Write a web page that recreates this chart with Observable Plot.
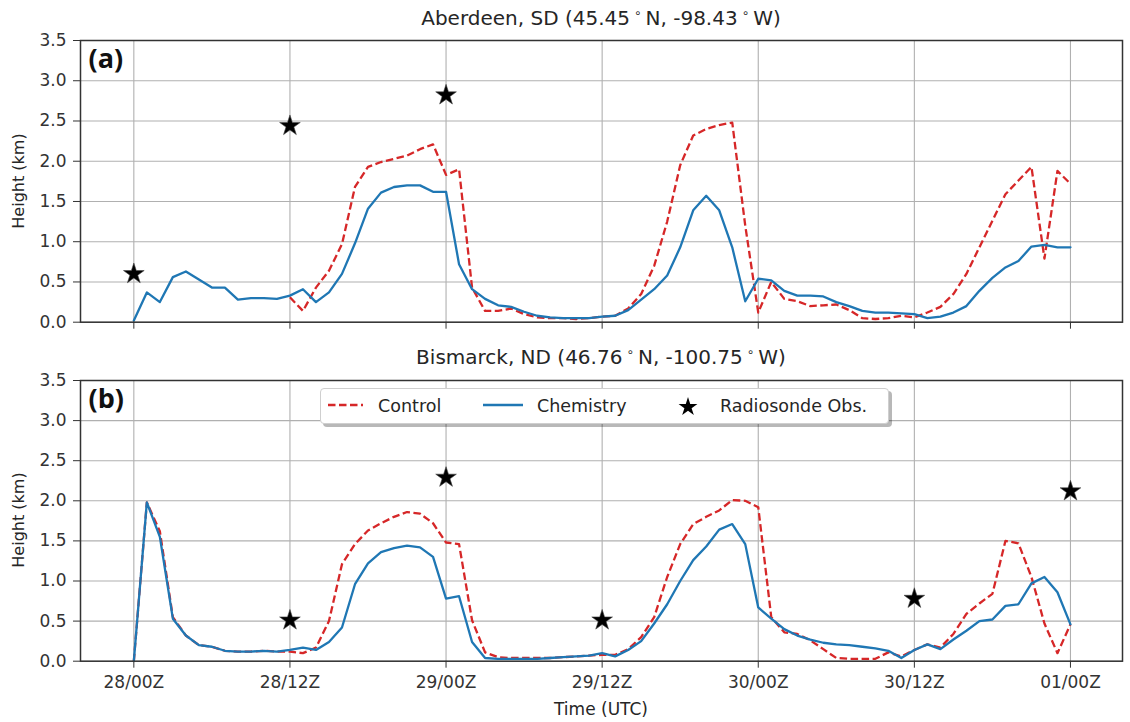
<!DOCTYPE html>
<html>
<head>
<meta charset="utf-8">
<script src="https://cdn.jsdelivr.net/npm/d3@7"></script>
<script src="https://cdn.jsdelivr.net/npm/@observablehq/plot@0.6"></script>
<style>
  html, body { margin: 0; padding: 0; background: #fff; }
  #wrap { position: relative; width: 1130px; height: 722px; font-family: "DejaVu Sans", sans-serif; color: #262626; overflow: hidden; }
  .abs { position: absolute; }
  .title { font-size: 20px; white-space: nowrap; transform: translate(-50%, -50%); }
  .ylab { font-size: 16px; white-space: nowrap; transform: translate(-50%, -50%) rotate(-90deg); }
  .xlab { font-size: 17px; white-space: nowrap; transform: translate(-50%, -50%); }
  .deg { font-size: 12px; vertical-align: 8px; margin: 0 4px; }
  #legend { left: 320px; top: 388px; width: 567px; height: 34px; background: #fff; border: 1px solid #cfcfcf; border-radius: 4px; box-shadow: 3px 3px 0 rgba(0,0,0,0.28); font-size: 17.5px; }
  #legend .t { position: absolute; top: 50%; transform: translateY(-50%); white-space: nowrap; }
</style>
</head>
<body>
<div id="wrap"></div>
<script>
// ---------------- data ----------------
const hours = d3.range(0, 73); // hourly model output, 28/00Z .. 01/00Z
const xTicks = [0, 12, 24, 36, 48, 60, 72];
const xTickLabels = ["28/00Z", "28/12Z", "29/00Z", "29/12Z", "30/00Z", "30/12Z", "01/00Z"];
const yTicks = [0, 0.5, 1, 1.5, 2, 2.5, 3, 3.5];

// (a) Aberdeen, SD
const aChem = [0.02,0.37,0.25,0.56,0.63,0.53,0.43,0.43,0.28,0.30,0.30,0.29,0.33,0.41,0.25,0.37,0.60,0.98,1.41,1.61,1.68,1.70,1.70,1.62,1.62,0.72,0.41,0.29,0.21,0.19,0.13,0.08,0.06,0.05,0.05,0.05,0.07,0.08,0.15,0.28,0.41,0.58,0.93,1.39,1.57,1.39,0.93,0.26,0.54,0.52,0.39,0.33,0.33,0.32,0.25,0.20,0.14,0.12,0.12,0.11,0.10,0.05,0.07,0.12,0.20,0.39,0.55,0.68,0.76,0.94,0.96,0.93,0.93];
const aCtrl = [null,null,null,null,null,null,null,null,null,null,null,null,0.31,0.14,0.43,0.64,0.97,1.68,1.93,1.99,2.03,2.07,2.15,2.21,1.83,1.90,0.43,0.14,0.14,0.17,0.10,0.06,0.05,0.05,0.04,0.05,0.07,0.08,0.17,0.35,0.70,1.25,1.95,2.32,2.40,2.45,2.48,1.20,0.12,0.50,0.29,0.26,0.20,0.21,0.22,0.15,0.05,0.04,0.05,0.08,0.06,0.12,0.19,0.35,0.60,0.93,1.26,1.59,1.76,1.93,0.79,1.88,1.72];
const aObsHours = [0, 12, 24];
const aObs = [0.60, 2.44, 2.82];

// (b) Bismarck, ND
const bChem = [0.00,1.98,1.55,0.53,0.32,0.20,0.18,0.13,0.12,0.12,0.13,0.12,0.14,0.17,0.14,0.24,0.42,0.96,1.22,1.36,1.41,1.44,1.42,1.30,0.78,0.81,0.24,0.04,0.03,0.03,0.03,0.03,0.04,0.05,0.06,0.07,0.10,0.06,0.14,0.25,0.47,0.71,1.00,1.26,1.43,1.64,1.71,1.46,0.67,0.53,0.40,0.32,0.27,0.23,0.21,0.20,0.18,0.16,0.13,0.04,0.14,0.21,0.15,0.27,0.38,0.50,0.52,0.69,0.71,0.97,1.05,0.86,0.46];
const bCtrl = [0.00,1.98,1.62,0.55,0.32,0.20,0.18,0.13,0.12,0.12,0.13,0.12,0.12,0.10,0.17,0.50,1.21,1.46,1.63,1.72,1.80,1.86,1.84,1.72,1.48,1.46,0.51,0.11,0.05,0.04,0.04,0.04,0.04,0.05,0.06,0.07,0.08,0.08,0.15,0.30,0.55,1.05,1.46,1.71,1.80,1.88,2.01,2.00,1.92,0.55,0.36,0.34,0.26,0.15,0.04,0.03,0.03,0.03,0.11,0.06,0.14,0.21,0.17,0.34,0.59,0.72,0.84,1.50,1.47,1.05,0.47,0.10,0.46];
const bObsHours = [12, 24, 36, 60, 72];
const bObs = [0.51, 2.29, 0.51, 0.78, 2.12];

const panels = [
  {tag: "(a)", chem: aChem, ctrl: aCtrl, obsH: aObsHours, obs: aObs,
   title: ["Aberdeen, SD (45.45", "N, -98.43", "W)"]},
  {tag: "(b)", chem: bChem, ctrl: bCtrl, obsH: bObsHours, obs: bObs,
   title: ["Bismarck, ND (46.76", "N, -100.75", "W)"]}
];

// ---------------- styles ----------------
const RED = "#d62728", BLUE = "#1f77b4";
const wrap = document.getElementById("wrap");

function makePanel(p, withLabels, height, marginBottom) {
  const rows = hours.map((h, i) => ({h, chem: p.chem[i], ctrl: p.ctrl[i]}));
  const obsRows = p.obsH.map((h, i) => ({h, v: p.obs[i]}));
  return Plot.plot({
    width: 1130, height, marginLeft: 80, marginRight: 8, marginTop: 10, marginBottom,
    x: {domain: [-4.1, 76], label: null},
    y: {domain: [0, 3.5], label: null},
    style: {fontFamily: "DejaVu Sans, sans-serif", fontSize: "17px", color: "#333", background: "transparent", overflow: "visible"},
    marks: [
      Plot.gridX(xTicks, {stroke: "#b0b0b0", strokeOpacity: 1, strokeWidth: 1.1}),
      Plot.gridY(yTicks, {stroke: "#b0b0b0", strokeOpacity: 1, strokeWidth: 1.1}),
      Plot.line(rows, {x: "h", y: "ctrl", stroke: RED, strokeWidth: 2.3, strokeDasharray: "7.5,3.5", strokeLinecap: "butt"}),
      Plot.line(rows, {x: "h", y: "chem", stroke: BLUE, strokeWidth: 2.3}),
      Plot.dot(obsRows, {x: "h", y: "v", symbol: "star", r: 6.5, fill: "black", stroke: "#444", strokeWidth: 0.6}),
      Plot.frame({stroke: "#333", strokeWidth: 1.5}),
      Plot.axisY(yTicks, {tickSize: 7, tickPadding: 7, tickFormat: d3.format(".1f"), fontSize: 17, fill: "#333", stroke: "#333", label: null}),
      Plot.axisX(xTicks, {tickSize: 7, tickPadding: 8, fontSize: 17, fill: "#333", stroke: "#333", label: null,
        tickFormat: withLabels ? (d => xTickLabels[xTicks.indexOf(d)]) : (() => "")}),
      Plot.text([p.tag], {frameAnchor: "top-left", dx: 8, dy: 8, text: d => d, fontSize: 27, fontWeight: "bold",
        fontFamily: "Open Sans, sans-serif", textAnchor: "start", lineAnchor: "top", fill: "#111"})
    ]
  });
}

function place(el, left, top) {
  el.classList.add("abs");
  el.style.left = left + "px";
  el.style.top = top + "px";
  wrap.appendChild(el);
  return el;
}

function title(parts, cx, cy) {
  const d = document.createElement("div");
  d.className = "title";
  d.innerHTML = parts[0] + '<span class="deg">∘</span>' + parts[1] + '<span class="deg">∘</span>' + parts[2];
  place(d, cx, cy);
}

function text(cls, str, cx, cy) {
  const d = document.createElement("div");
  d.className = cls;
  d.textContent = str;
  place(d, cx, cy);
}

// panel (a)
const svgA = makePanel(panels[0], false, 300, 8.3);
place(svgA, 0, 30);
// panel (b)
const svgB = makePanel(panels[1], true, 352, 61.3);
place(svgB, 0, 370);

title(panels[0].title, 601, 18);
title(panels[1].title, 601, 357);
text("ylab", "Height (km)", 18, 181);
text("ylab", "Height (km)", 18, 520);
text("xlab", "Time (UTC)", 601, 709);

// legend (matplotlib-style box with shadow)
const lg = document.createElement("div");
lg.id = "legend";
place(lg, 320, 388);
lg.innerHTML = `
  <svg width="567" height="34" style="position:absolute;left:0;top:0">
    <line x1="7" x2="42" y1="16" y2="16" stroke="${RED}" stroke-width="2.3" stroke-dasharray="7.5,3.5"/>
    <line x1="162" x2="202" y1="16" y2="16" stroke="${BLUE}" stroke-width="2.3"/>
    <path transform="translate(367,18)" d="${d3.symbol(d3.symbolStar, 110)()}" fill="black"/>
  </svg>
  <div class="t" style="left:57px">Control</div>
  <div class="t" style="left:216px">Chemistry</div>
  <div class="t" style="left:399px">Radiosonde Obs.</div>`;
</script>
</body>
</html>
